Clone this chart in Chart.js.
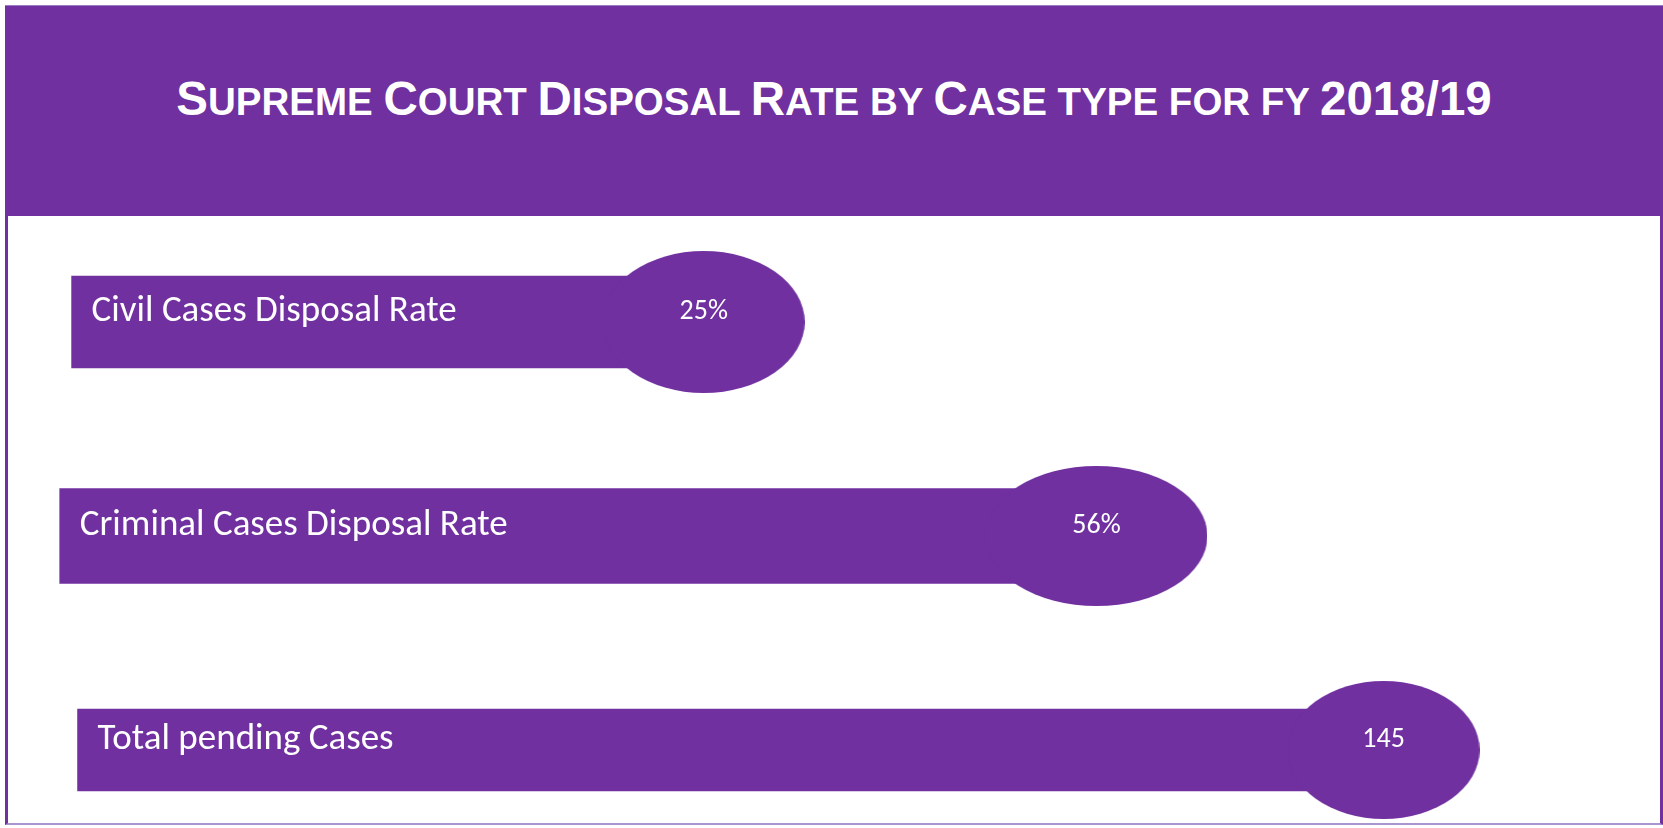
<!DOCTYPE html>
<html lang="en">

<head>
    <meta charset="UTF-8">
    <title>Supreme Court Disposal Rate</title>
    <style>
        body { margin: 0; width: 1663px; height: 828px; position: relative; background: #fff; overflow: hidden; }
        #frame { position: absolute; left: 5px; top: 5px; width: 1652px; height: 818px;
                 border-left: 3px solid #7030A0; border-right: 3px solid #7030A0; border-bottom: 2px solid #a995cf; }
        #header { position: absolute; left: 5px; top: 5px; right: 0; height: 211px; background: #7030A0;
                  border-top: 1px solid #9a7cc4; box-sizing: border-box; }
        #title { position: absolute; left: 5px; right: 0; top: 75px; margin: 0; text-align: center;
                 font-family: 'Liberation Sans', Arial, sans-serif; font-weight: bold; font-size: 38.5px;
                 line-height: 48px; color: #fff; text-transform: uppercase; }
        #title .cap { font-size: 47.5px; }
        #chart { position: absolute; left: 0; top: 0; }
    </style>
</head>

<body>
    <div id="frame"></div>
    <div id="header"></div>
    <h1 id="title"><span class="cap">S</span>upreme <span class="cap">C</span>ourt <span class="cap">D</span>isposal <span class="cap">R</span>ate by <span class="cap">C</span>ase type for fy <span class="cap">2018/19</span></h1>
    <canvas id="chart" width="1663" height="828"></canvas>

    <script src="https://cdn.jsdelivr.net/npm/chart.js@4.4.1/dist/chart.umd.min.js"></script>
    <script>
        // data
        const categories = ['Civil Cases Disposal Rate', 'Criminal Cases Disposal Rate', 'Total pending Cases'];
        const valueLabels = ['25%', '56%', '145'];
        const barStart = [4.03, 3.31, 4.39];
        const barEnd = [42.27, 66.03, 83.4];

        // look of the bars and the bubbles at their ends
        const purple = '#7030A0';
        const barHeights = [92, 95, 82];
        const bubbleRx = [101, 111, 96];
        const bubbleRy = [71, 70, 69];
        const labelFont = '37px Carlito, Lato, sans-serif';
        const valueFont = '28px Carlito, Lato, sans-serif';

        function ellipseImage(rx, ry) {
            const c = document.createElement('canvas');
            c.width = rx * 2;
            c.height = ry * 2;
            const g = c.getContext('2d');
            g.fillStyle = purple;
            g.beginPath();
            g.ellipse(rx, ry, rx, ry, 0, 0, Math.PI * 2);
            g.fill();
            return c;
        }
        const bubbles = bubbleRx.map((rx, i) => ellipseImage(rx, bubbleRy[i]));

        // one bar dataset per row so every row keeps its own thickness
        const barSets = categories.map((c, i) => ({
            data: categories.map((c2, j) => j === i ? [barStart[i], barEnd[i]] : null),
            backgroundColor: purple,
            barThickness: barHeights[i],
            borderSkipped: false,
            grouped: false,
            clip: false,
            order: 1
        }));

        // writes the category name inside the bar and the value inside the bubble
        const textPlugin = {
            id: 'barText',
            afterDatasetsDraw(chart) {
                const ctx = chart.ctx;
                const dots = chart.getDatasetMeta(0).data;
                ctx.save();
                ctx.fillStyle = '#fff';
                ctx.textBaseline = 'middle';
                categories.forEach((name, i) => {
                    const bar = chart.getDatasetMeta(i + 1).data[i];
                    ctx.font = labelFont;
                    ctx.textAlign = 'left';
                    ctx.fillText(name, bar.base + 20, bar.y - 10);
                    ctx.font = valueFont;
                    ctx.textAlign = 'center';
                    ctx.fillText(valueLabels[i], dots[i].x, dots[i].y - 10);
                });
                ctx.restore();
            }
        };

        const ctx = document.getElementById('chart').getContext('2d');
        document.fonts.ready.then(() => {
            new Chart(ctx, {
                type: 'bar',
                data: {
                    labels: categories,
                    datasets: [{
                        type: 'line',
                        data: barEnd,
                        showLine: false,
                        pointStyle: bubbles,
                        pointRadius: 3,
                        clip: false,
                        order: 0
                    }, ...barSets]
                },
                options: {
                    indexAxis: 'y',
                    responsive: false,
                    animation: false,
                    events: [],
                    layout: { padding: { top: 322, bottom: 78, left: 0, right: 0 } },
                    scales: {
                        x: { display: false, min: 0, max: 100 },
                        y: { display: false, offset: false }
                    },
                    plugins: {
                        legend: { display: false },
                        tooltip: { enabled: false }
                    }
                },
                plugins: [textPlugin]
            });
        });
    </script>
</body>

</html>
